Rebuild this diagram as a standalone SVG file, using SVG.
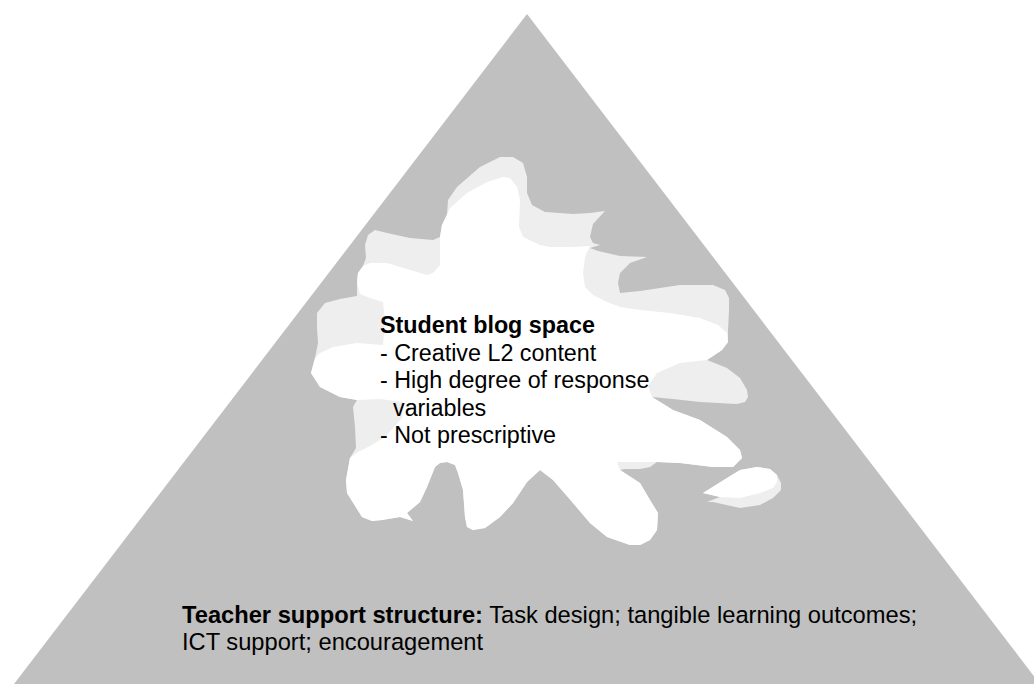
<svg xmlns="http://www.w3.org/2000/svg" width="1034" height="684" viewBox="0 0 1034 684">
<style>
.t{font-family:"Liberation Sans",Arial,sans-serif;font-size:23.3px;fill:#000}
.bt{font-size:23.7px}
.b{font-weight:bold}
.sh{fill:#EEEEEE}
.wh{fill:#FFFFFF}
</style>
<rect width="1034" height="684" fill="#FFFFFF"/>
<g id="triangle">
<polygon points="527,14 1040,684 14,684" fill="#C0C0C0"/>
</g>
<g id="blob">
<path class="sh" d="M440,237 L442,225 L447,215 L448,200 L457,187 L480,167 L500,157 L513,157 L523,163 L527,177 L527,193 L532,205 L545,212 L573,214 L590,213 L605,211 L593,224 L590,237 L593,243 L600,245 L590,248 L598,251 L620,256 L647,257 L630,263 L620,273 L618,283 L620,293 L640,291 L680,285 L713,285 L725,290 L729,298 L729,310 L728,330 L728,342 L722,350 L707,360 L727,368 L740,378 L747,390 L748,397 L745,402 L737,404 L700,402 L673,399 L652,397 L673,410 L700,420 L727,437 L740,450 L742,458 L733,467 L713,467 L680,463 L657,462 L650,467 L640,469 L625,469 L620,470 L640,483 L650,500 L658,513 L657,530 L650,540 L640,545 L630,545 L607,537 L590,523 L573,503 L553,480 L540,470 L527,482 L513,503 L500,517 L485,528 L473,530 L467,527 L465,517 L463,490 L458,473 L455,465 L447,462 L440,463 L435,467 L427,487 L420,502 L407,513 L413,521 L400,517 L382,520 L372,521 L362,517 L347,493 L346,480 L350,458 L356,448 L355,427 L353,407 L357,400 L340,397 L320,387 L311,373 L315,358 L318,343 L317,327 L317,313 L325,303 L340,299 L357,296 L357,283 L358,273 L363,266 L366,258 L365,245 L368,235 L375,230 L387,233 L410,238 L433,240 Z"/>
<path class="wh" d="M440,237 L442,225 L450,208 L467,193 L487,182 L503,177 L510,178 L517,187 L520,200 L519,227 L523,237 L540,245 L550,247 L573,247 L590,246 L585,257 L583,273 L585,287 L593,295 L607,302 L620,307 L640,310 L670,313 L700,318 L718,325 L727,333 L728,342 L722,350 L707,360 L680,363 L657,373 L648,386 L652,397 L673,410 L700,420 L727,437 L740,450 L742,458 L733,467 L713,467 L680,463 L657,462 L617,462 L620,470 L640,483 L650,500 L658,513 L657,530 L650,540 L640,545 L630,545 L607,537 L590,523 L573,503 L553,480 L540,470 L527,482 L513,503 L500,517 L485,528 L473,530 L467,527 L465,517 L463,490 L458,473 L455,465 L447,462 L440,463 L435,467 L427,487 L420,502 L407,513 L413,521 L400,517 L382,520 L372,521 L362,517 L347,493 L346,480 L350,458 L358,452 L370,446 L385,437 L402,418 L403,402 L380,399 L357,400 L340,397 L320,387 L311,373 L315,358 L320,353 L333,347 L357,343 L383,345 L385,320 L383,302 L370,298 L360,294 L357,283 L358,273 L363,266 L370,263 L387,263 L410,270 L427,275 L433,273 L440,265 Z"/>
</g>
<g id="drop">
<path class="sh" d="M703,493 L727,478 L740,470 L757,467 L770,469 L777,475 L781,483 L781,490 L773,498 L760,505 L740,508 L713,502 L707,502 L720,497 Z"/>
<path class="wh" d="M703,493 L727,478 L740,470 L757,467 L770,469 L777,475 L777,482 L773,488 L760,493 L740,498 L720,497 Z"/>
</g>
<g id="blob-text">
<text class="t b" x="380" y="333">Student blog space</text>
<text class="t" x="380" y="360.5">- Creative L2 content</text>
<text class="t" x="380" y="388">- High degree of response</text>
<text class="t" x="393" y="415.5">variables</text>
<text class="t" x="380" y="443">- Not prescriptive</text>
</g>
<g id="base-text">
<text class="t bt" x="182" y="622.5"><tspan class="b">Teacher support structure:</tspan> Task design; tangible learning outcomes;</text>
<text class="t bt" x="182" y="650">ICT support; encouragement</text>
</g>
</svg>
